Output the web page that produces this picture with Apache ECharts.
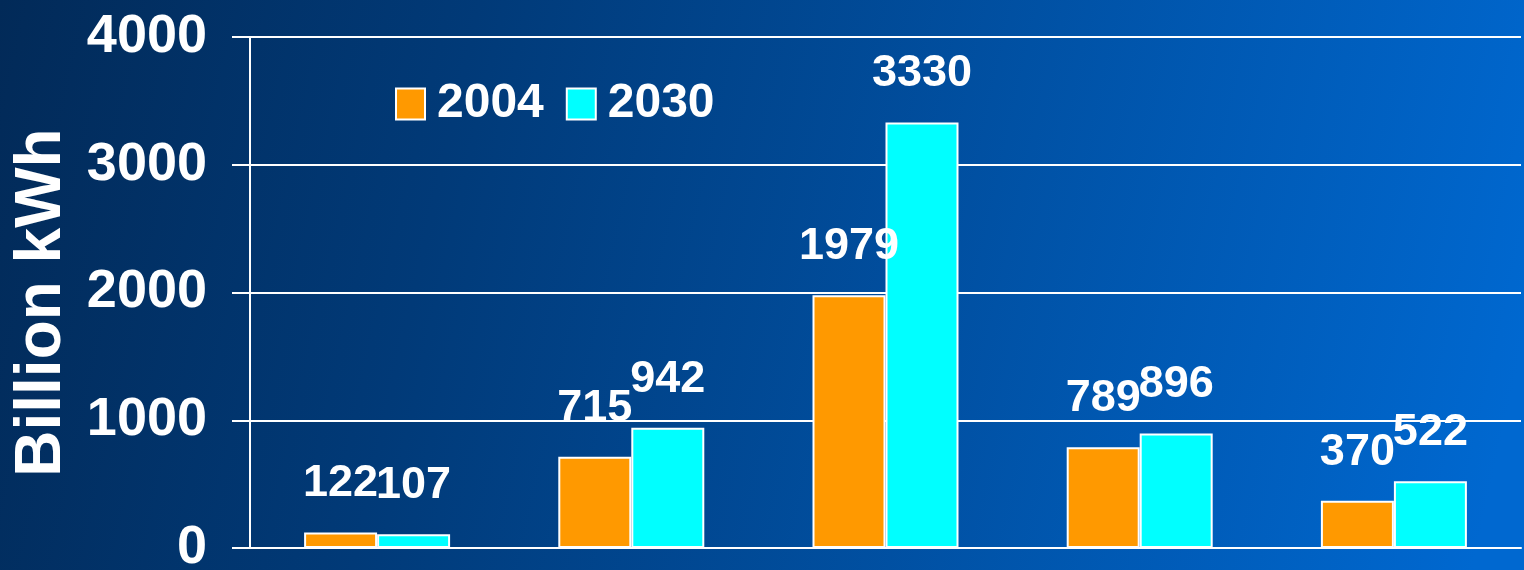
<!DOCTYPE html>
<html lang="en">
<head>
    <meta charset="UTF-8">
    <title>Billion kWh 2004 vs 2030</title>
    <script src="https://cdn.jsdelivr.net/npm/echarts@6/dist/echarts.min.js"></script>
    <style>
        html, body { margin: 0; padding: 0; }
        #chart { width: 1524px; height: 570px; }
    </style>
</head>
<body>
<div id="chart"></div>
<script>
    // categories are not shown in the picture (labels hidden)
    var categories = ['Petroleum', 'Natural Gas', 'Coal', 'Nuclear', 'Renewables'];
    var values2004 = [122, 715, 1979, 789, 370];
    var values2030 = [107, 942, 3330, 896, 522];
    var yTicks = [0, 1000, 2000, 3000, 4000];

    var font = '"Liberation Sans", Arial, sans-serif';
    var white = '#ffffff';

    var chart = echarts.init(document.getElementById('chart'));

    function barSeries(name, data, color) {
        return {
            name: name,
            type: 'bar',
            data: data,
            barWidth: 73,
            barGap: '0%',
            itemStyle: { color: color, borderColor: white, borderWidth: 2 },
            label: {
                show: true,
                position: 'top',
                distance: 26,
                color: white,
                fontFamily: font,
                fontWeight: 'bold',
                fontSize: 45
            }
        };
    }

    chart.setOption({
        animation: false,
        backgroundColor: {
            type: 'linear', x: 0, y: 0, x2: 1, y2: 0.6,
            colorStops: [
                { offset: 0, color: '#022a58' },
                { offset: 0.3, color: '#013a78' },
                { offset: 1, color: '#0068d0' }
            ]
        },
        grid: { left: 250, right: 3, top: 37, bottom: 22, containLabel: false, outerBoundsMode: 'none' },
        legend: {
            left: 395,
            top: 80,
            padding: 0,
            itemWidth: 29,
            itemHeight: 31,
            itemGap: 22,
            icon: 'rect',
            textStyle: {
                color: white,
                fontFamily: font,
                fontWeight: 'bold',
                fontSize: 48,
                padding: [0, 0, 0, 7]
            },
            data: ['2004', '2030']
        },
        xAxis: {
            type: 'category',
            data: categories,
            axisLine: { show: true, lineStyle: { color: white, width: 2 } },
            axisTick: { show: false },
            axisLabel: { show: false }
        },
        yAxis: {
            type: 'value',
            min: yTicks[0],
            max: yTicks[yTicks.length - 1],
            interval: 1000,
            name: 'Billion kWh',
            nameLocation: 'middle',
            nameRotate: 90,
            nameGap: 176,
            nameTextStyle: {
                color: white,
                fontFamily: font,
                fontWeight: 'bold',
                fontSize: 64,
                padding: [0, 20, 0, 0]
            },
            axisLine: { show: true, lineStyle: { color: white, width: 2 } },
            axisTick: { show: true, length: 18, lineStyle: { color: white, width: 2 } },
            axisLabel: {
                margin: 43,
                color: white,
                fontFamily: font,
                fontWeight: 'bold',
                fontSize: 54,
                formatter: function (v) { return String(v); }
            },
            splitLine: { show: true, lineStyle: { color: white, width: 2 } }
        },
        series: [
            barSeries('2004', values2004, '#ff9900'),
            barSeries('2030', values2030, '#00ffff')
        ]
    });
</script>
</body>
</html>
